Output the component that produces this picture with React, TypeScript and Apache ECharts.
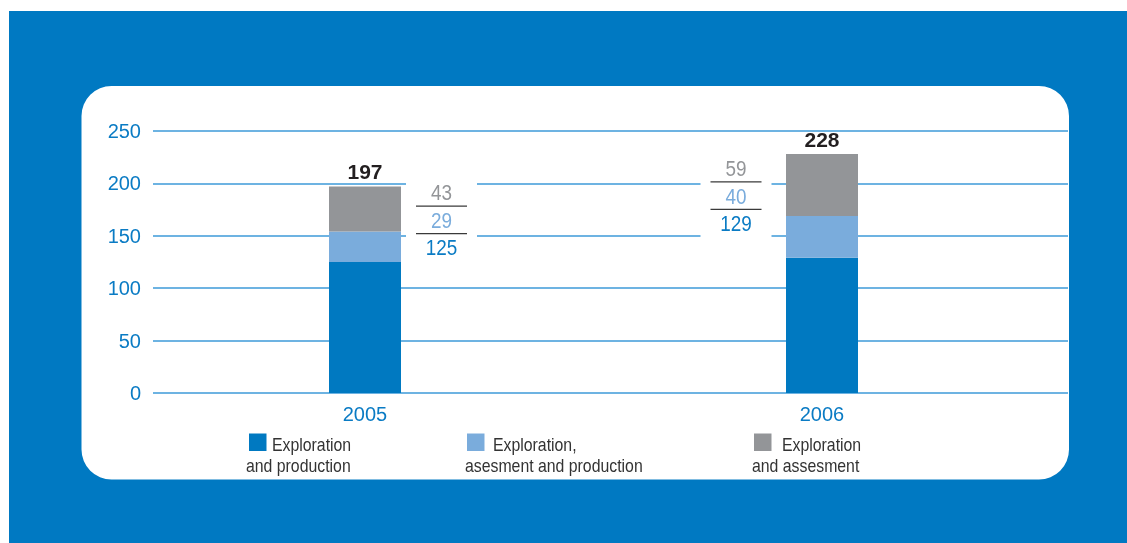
import React, { useEffect, useRef } from "react";
import * as echarts from "echarts";

const categories = ["2005", "2006"];
const explorationProduction = [125, 129];
const explorationAssessmentProduction = [29, 40];
const explorationAssessment = [43, 59];
const totals = [197, 228];
const yMax = 250;
const yInterval = 50;
const legendLines = [
  ["Exploration", "and production"],
  ["Exploration,", "asesment and production"],
  ["Exploration", "and assesment"],
];

const COLORS = ["#0079c1", "#7aacdc", "#939598"];
const LABEL_BLUE = "#0a7bc4";
const GRID_BLUE = "#3d9ad9";
const FONT = "'Liberation Sans', Arial, sans-serif";
const W = 1127;
const H = 543;

export default function App() {
  const ref = useRef<HTMLDivElement>(null);

  useEffect(() => {
    if (!ref.current) return;
    const chart = echarts.init(ref.current, undefined, { renderer: "svg" });
    const seriesData = [explorationProduction, explorationAssessmentProduction, explorationAssessment];
    const names = ["Exploration and production", "Exploration, asesment and production", "Exploration and assesment"];

    chart.setOption({
      animation: false,
      backgroundColor: "transparent",
      textStyle: { fontFamily: FONT },
      grid: [
        { left: 136.5, right: 76.5, top: 131, bottom: 150 },
        { left: 153, right: 59, top: 131, bottom: 150 },
      ],
      xAxis: [
        {
          type: "category",
          gridIndex: 0,
          data: categories,
          axisLine: { show: false },
          axisTick: { show: false },
          axisLabel: { color: LABEL_BLUE, fontSize: 20, lineHeight: 22, margin: 10, fontFamily: FONT },
          splitLine: { show: false },
        },
        { type: "value", gridIndex: 1, min: 0, max: 1, show: false },
      ],
      yAxis: [
        { type: "value", gridIndex: 0, min: 0, max: yMax, interval: yInterval, show: false },
        {
          type: "value",
          gridIndex: 1,
          min: 0,
          max: yMax,
          interval: yInterval,
          axisLine: { show: false },
          axisTick: { show: false },
          axisLabel: {
            color: LABEL_BLUE,
            fontSize: 20,
            lineHeight: 22,
            margin: 12,
            padding: [0, 0, 12, 0],
            fontFamily: FONT,
          },
          splitLine: { show: true, lineStyle: { color: GRID_BLUE, width: 1.5 } },
        },
      ],
      series: seriesData.map((d, i) => ({
        type: "bar",
        name: names[i],
        xAxisIndex: 0,
        yAxisIndex: 0,
        stack: "total",
        barWidth: 72,
        data: d,
        itemStyle: { color: COLORS[i] },
        z: 3,
        label:
          i === 2
            ? {
                show: true,
                position: "top",
                distance: 4,
                formatter: (p: any) => String(totals[p.dataIndex]),
                color: "#231f20",
                fontWeight: "bold",
                fontSize: 21,
                lineHeight: 22,
                fontFamily: FONT,
              }
            : { show: false },
      })),
    });

    // annotations anchored to the middle of the grey segment
    const sideOffset = [76.5, -86];
    const annGroups: any[] = categories.map((_, i) => {
      const base = explorationProduction[i] + explorationAssessmentProduction[i];
      const mid = base + explorationAssessment[i] / 2;
      const px = chart.convertToPixel({ xAxisIndex: 0, yAxisIndex: 0 }, [i, mid]) as number[];
      const cx = px[0] + sideOffset[i];
      const cy = px[1] - 17.5;
      const txt = (y: number, v: number, color: string) => ({
        type: "text",
        x: 0,
        y,
        scaleX: 0.86,
        style: {
          text: String(v),
          fill: color,
          font: `22px ${FONT}`,
          align: "center",
          verticalAlign: "middle",
        },
      });
      const ln = (y: number) => ({
        type: "line",
        shape: { x1: -25.5, y1: y, x2: 25.5, y2: y },
        style: { stroke: "#3a3a3a", lineWidth: 1.3 },
      });
      return {
        type: "group",
        x: cx,
        y: cy,
        z: 50,
        children: [
          { type: "rect", shape: { x: -35.5, y: -22, width: 71, height: 100 }, style: { fill: "#ffffff" } },
          txt(0, explorationAssessment[i], "#939598"),
          ln(14.5),
          txt(28, explorationAssessmentProduction[i], "#7aacdc"),
          ln(42),
          txt(55, explorationProduction[i], LABEL_BLUE),
        ],
      };
    });

    const legendPos = [
      { sq: 249, t1: 272, t2: 246 },
      { sq: 467, t1: 493, t2: 465 },
      { sq: 754, t1: 782, t2: 752 },
    ];
    const legendEls: any[] = [];
    const legendText = (x: number, y: number, text: string) => ({
      type: "text",
      z: 50,
      x,
      y,
      scaleX: 0.88,
      style: { text, fill: "#333333", font: `18px ${FONT}`, align: "left", verticalAlign: "middle" },
    });
    legendLines.forEach((lines, i) => {
      const p = legendPos[i];
      legendEls.push({
        type: "rect",
        z: 50,
        shape: { x: p.sq, y: 433.5, width: 17.5, height: 17.5 },
        style: { fill: COLORS[i] },
      });
      legendEls.push(legendText(p.t1, 445, lines[0]));
      legendEls.push(legendText(p.t2, 466, lines[1]));
    });

    chart.setOption({
      graphic: [
        {
          type: "rect",
          z: -100,
          silent: true,
          shape: { x: 9, y: 11, width: W - 9, height: H - 11 },
          style: { fill: "#0079c2" },
        },
        {
          type: "rect",
          z: -99,
          silent: true,
          shape: { x: 81.5, y: 86, width: 987.5, height: 393.5, r: 30 },
          style: { fill: "#ffffff" },
        },
        ...annGroups,
        ...legendEls,
      ],
    });

    return () => chart.dispose();
  }, []);

  return <div ref={ref} style={{ position: "fixed", left: 0, top: 0, width: W, height: H }} />;
}
